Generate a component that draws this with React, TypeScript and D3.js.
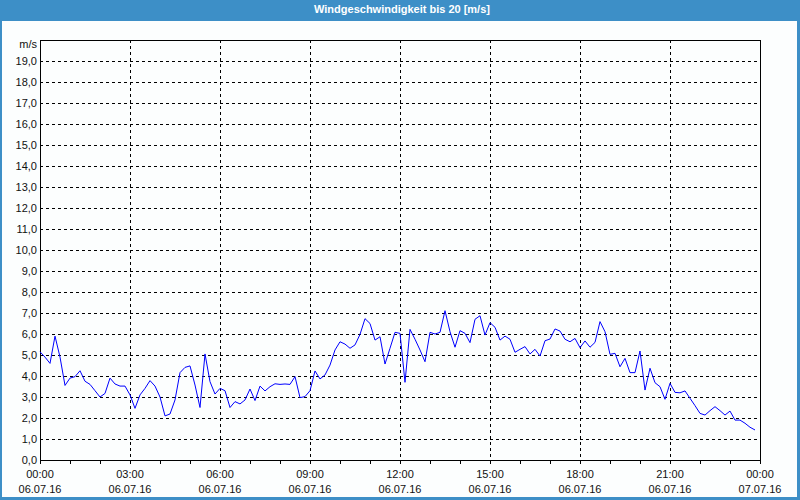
import React, { useEffect, useRef } from "react";
import * as d3 from "d3";

const TITLE = "Windgeschwindigkeit bis 20 [m/s]";
const UNIT = "m/s";
// 10-minute samples starting 06.07.16 00:00
const windSpeed: number[] = [
  5.15, 4.9, 4.6, 5.9, 4.9, 3.55, 3.9, 3.97, 4.25, 3.75,
  3.6, 3.3, 3.0, 3.17, 3.9, 3.62, 3.52, 3.52, 3.1, 2.46,
  3.1, 3.41, 3.78, 3.52, 3.0, 2.1, 2.19, 2.86, 4.16, 4.41,
  4.48, 3.57, 2.5, 5.05, 3.73, 3.14, 3.41, 3.3, 2.5, 2.78,
  2.67, 2.86, 3.38, 2.83, 3.52, 3.29, 3.49, 3.63, 3.6, 3.62,
  3.6, 3.97, 2.97, 3.02, 3.3, 4.24, 3.86, 4.05, 4.52, 5.24,
  5.63, 5.52, 5.32, 5.48, 5.98, 6.73, 6.5, 5.71, 5.87, 4.57,
  5.32, 6.08, 6.03, 3.7, 6.22, 5.75, 5.24, 4.68, 6.08, 6.0,
  6.08, 7.11, 6.11, 5.37, 6.16, 6.03, 5.59, 6.7, 6.87, 5.95,
  6.54, 6.32, 5.71, 5.9, 5.75, 5.13, 5.27, 5.4, 5.05, 5.27,
  4.95, 5.68, 5.76, 6.24, 6.14, 5.75, 5.63, 5.79, 5.35, 5.67,
  5.37, 5.6, 6.59, 6.11, 5.03, 5.08, 4.44, 4.84, 4.16, 4.16,
  5.19, 3.33, 4.37, 3.68, 3.49, 2.89, 3.65, 3.22, 3.2, 3.29,
  2.94, 2.59, 2.22, 2.14, 2.35, 2.54, 2.35, 2.14, 2.33, 1.9,
  1.9, 1.75, 1.56, 1.43,
];
const timeLabels = ["00:00", "03:00", "06:00", "09:00", "12:00", "15:00", "18:00", "21:00", "00:00"];
const dateLabels = ["06.07.16", "06.07.16", "06.07.16", "06.07.16", "06.07.16", "06.07.16", "06.07.16", "06.07.16", "07.07.16"];
const yTicks = d3.range(0, 20, 1);

const W = 800, H = 500;
const M = { left: 40, right: 760, top: 40, bottom: 460 };
const FONT = "'Liberation Sans', Arial, sans-serif";

export default function App() {
  const ref = useRef<SVGSVGElement>(null);
  useEffect(() => {
    const svg = d3.select(ref.current);
    svg.selectAll("*").remove();
    const x = d3.scaleLinear().domain([0, 24 * 60]).range([M.left, M.right]);
    const y = d3.scaleLinear().domain([0, 20]).range([M.bottom, M.top]);

    svg.append("rect").attr("x", 0).attr("y", 0).attr("width", W).attr("height", H).attr("fill", "#3d8fc7");
    svg.append("rect").attr("x", 2).attr("y", 21).attr("width", 795).attr("height", 476).attr("fill", "#fcfefe");
    svg.append("text").attr("x", 402).attr("y", 13).attr("text-anchor", "middle")
      .attr("fill", "#fff").attr("font-family", FONT).attr("font-size", 11).attr("font-weight", "bold")
      .text(TITLE);

    const g = svg.append("g").attr("shape-rendering", "crispEdges");
    // horizontal grid
    yTicks.filter((v) => v > 0).forEach((v) => {
      g.append("line").attr("x1", M.left).attr("x2", M.right).attr("y1", Math.round(y(v)) + 0.5).attr("y2", Math.round(y(v)) + 0.5)
        .attr("stroke", "#000").attr("stroke-dasharray", "3,3");
    });
    // vertical grid
    timeLabels.forEach((_, i) => {
      if (i === 0 || i === timeLabels.length - 1) return;
      const xv = Math.round(x(i * 180)) + 0.5;
      g.append("line").attr("x1", xv).attr("x2", xv).attr("y1", M.top).attr("y2", M.bottom)
        .attr("stroke", "#000").attr("stroke-dasharray", "3,3");
    });
    // hourly ticks
    d3.range(0, 25).forEach((h) => {
      const xv = Math.round(x(h * 60)) + 0.5;
      g.append("line").attr("x1", xv).attr("x2", xv).attr("y1", M.bottom).attr("y2", M.bottom + 4).attr("stroke", "#000");
    });
    // frame
    g.append("rect").attr("x", M.left + 0.5).attr("y", M.top + 0.5).attr("width", M.right - M.left).attr("height", M.bottom - M.top)
      .attr("fill", "none").attr("stroke", "#000");

    // y labels
    yTicks.forEach((v) => {
      svg.append("text").attr("x", 37).attr("y", y(v) + 4).attr("text-anchor", "end")
        .attr("font-family", FONT).attr("font-size", 11).attr("fill", "#111")
        .text(d3.format(".1f")(v).replace(".", ","));
    });
    svg.append("text").attr("x", 37).attr("y", 48).attr("text-anchor", "end")
      .attr("font-family", FONT).attr("font-size", 11).attr("fill", "#111").text(UNIT);

    // x labels
    timeLabels.forEach((t, i) => {
      const xv = x(i * 180);
      svg.append("text").attr("x", xv).attr("y", 478).attr("text-anchor", "middle")
        .attr("font-family", FONT).attr("font-size", 11).attr("fill", "#111").text(t);
      svg.append("text").attr("x", xv).attr("y", 493).attr("text-anchor", "middle")
        .attr("font-family", FONT).attr("font-size", 11).attr("fill", "#111").text(dateLabels[i]);
    });

    const line = d3.line<number>().x((_, i) => x(i * 10)).y((d) => y(d));
    svg.append("path").datum(windSpeed).attr("d", line).attr("fill", "none")
      .attr("stroke", "#0000ff").attr("stroke-width", 1);
  }, []);
  return (
    <svg ref={ref} width={W} height={H} style={{ position: "absolute", left: 0, top: 0 }} />
  );
}
